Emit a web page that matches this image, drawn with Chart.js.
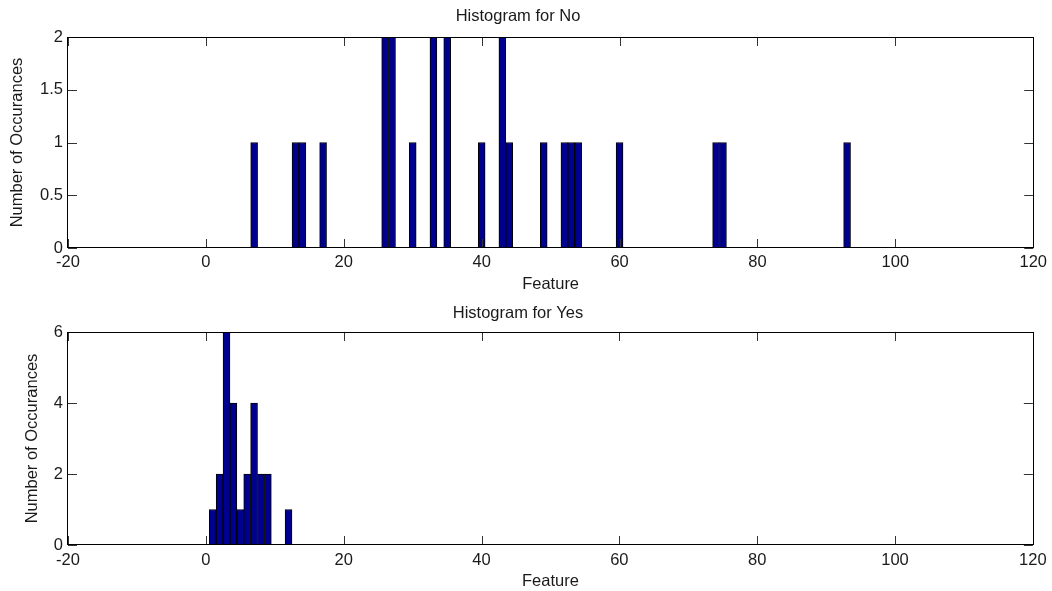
<!DOCTYPE html>
<html>
<head>
<meta charset="utf-8">
<script src="https://cdn.jsdelivr.net/npm/chart.js@4.4.1/dist/chart.umd.min.js"></script>
<style>
    body { margin: 0; background: #fff; width: 1052px; height: 591px; position: relative; overflow: hidden; }
    canvas { position: absolute; left: 0; }
    #noChart { top: 0; }
    #yesChart { top: 296px; }
</style>
</head>
<body>
<canvas id="noChart" width="1052" height="296"></canvas>
<canvas id="yesChart" width="1052" height="295"></canvas>
<script>
// Data (bin centre -> count)
const noBins   = [7, 13, 14, 17, 26, 27, 30, 33, 35, 40, 43, 44, 49, 52, 53, 54, 60, 74, 75, 93];
const noCounts = [1, 1, 1, 1, 2, 2, 1, 2, 2, 1, 2, 1, 1, 1, 1, 1, 1, 1, 1, 1];
const yesBins   = [1, 2, 3, 4, 5, 6, 7, 8, 9, 12];
const yesCounts = [1, 2, 6, 4, 1, 2, 4, 2, 2, 1];

const xTicks = [-20, 0, 20, 40, 60, 80, 100, 120];
const noYTicks = [0, 0.5, 1, 1.5, 2];
const yesYTicks = [0, 2, 4, 6];

const FONT = 'Liberation Sans, Arial, sans-serif';
const FS = 16.5;
const TEXT = '#1a1a1a';

// MATLAB style frame + inward tick marks
const matlabAxes = {
    id: 'matlabAxes',
    afterDraw(chart) {
        const { ctx, chartArea: a, scales } = chart;
        const len = 9;
        ctx.save();
        ctx.strokeStyle = '#333';
        ctx.lineWidth = 1;
        ctx.beginPath();
        scales.x.ticks.forEach(t => {
            const px = Math.round(scales.x.getPixelForValue(t.value)) + 0.5;
            ctx.moveTo(px, a.bottom); ctx.lineTo(px, a.bottom - len);
            ctx.moveTo(px, a.top); ctx.lineTo(px, a.top + len);
        });
        scales.y.ticks.forEach(t => {
            const py = Math.round(scales.y.getPixelForValue(t.value)) + 0.5;
            ctx.moveTo(a.left, py); ctx.lineTo(a.left + len, py);
            ctx.moveTo(a.right, py); ctx.lineTo(a.right - len, py);
        });
        ctx.stroke();
        ctx.strokeStyle = '#000';
        ctx.strokeRect(Math.round(a.left) - 0.5, Math.round(a.top) + 0.5,
            Math.round(a.right - a.left) + 1, Math.round(a.bottom - a.top) - 1);
        ctx.restore();
    }
};

function makeHist(canvasId, bins, counts, yTicks, cfg) {
    const ctx = document.getElementById(canvasId).getContext('2d');
    return new Chart(ctx, {
        type: 'bar',
        data: {
            datasets: [{
                data: bins.map((b, i) => ({ x: b, y: counts[i] })),
                backgroundColor: '#00008f',
                borderColor: '#000',
                borderWidth: 1,
                barPercentage: 1,
                categoryPercentage: 1
            }]
        },
        options: {
            responsive: false,
            devicePixelRatio: 1,
            animation: false,
            layout: { padding: { left: 0, right: 16, top: 0, bottom: 0 } },
            plugins: {
                legend: { display: false },
                tooltip: { enabled: false },
                title: {
                    display: true,
                    text: cfg.title,
                    color: TEXT,
                    font: { family: FONT, size: FS, weight: 'normal', lineHeight: 1.2 },
                    padding: { top: cfg.titleTop, bottom: cfg.titleBottom }
                }
            },
            scales: {
                x: {
                    type: 'linear',
                    offset: false,
                    min: xTicks[0],
                    max: xTicks[xTicks.length - 1],
                    afterBuildTicks: s => { s.ticks = xTicks.map(v => ({ value: v })); },
                    afterFit: s => { s.height = cfg.xHeight; },
                    grid: { display: false, drawTicks: false },
                    border: { display: false },
                    ticks: { color: TEXT, padding: cfg.tickPad, maxRotation: 0, font: { family: FONT, size: FS },
                             callback: v => String(v) },
                    title: {
                        display: true, text: 'Feature', color: TEXT,
                        font: { family: FONT, size: FS },
                        padding: { top: 0, bottom: cfg.featurePad }
                    }
                },
                y: {
                    min: yTicks[0],
                    max: yTicks[yTicks.length - 1],
                    afterBuildTicks: s => { s.ticks = yTicks.map(v => ({ value: v })); },
                    afterFit: s => { s.width = 68; },
                    grid: { display: false, drawTicks: false },
                    border: { display: false },
                    ticks: { color: TEXT, padding: 5, font: { family: FONT, size: FS },
                             callback: v => String(v) },
                    title: {
                        display: true, text: 'Number of Occurances', color: TEXT,
                        font: { family: FONT, size: FS },
                        padding: { top: cfg.yTitlePad, bottom: 0 }
                    }
                }
            }
        },
        plugins: [matlabAxes]
    });
}

makeHist('noChart', noBins, noCounts, noYTicks, {
    title: 'Histogram for No', titleTop: 7, titleBottom: 10.2,
    xHeight: 48, tickPad: 5, featurePad: 2, yTitlePad: 8
});
makeHist('yesChart', yesBins, yesCounts, yesYTicks, {
    title: 'Histogram for Yes', titleTop: 8, titleBottom: 8.2,
    xHeight: 46, tickPad: 5.4, featurePad: 0, yTitlePad: 23
});
</script>
</body>
</html>
